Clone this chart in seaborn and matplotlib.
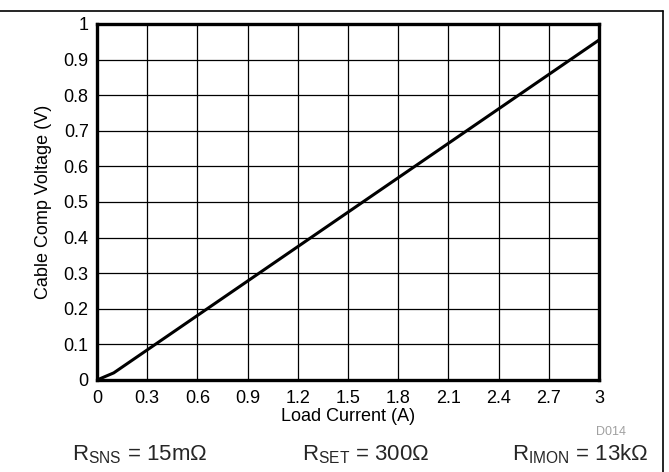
import matplotlib
matplotlib.use("Agg")
import matplotlib.pyplot as plt
import seaborn as sns
import pandas as pd
from matplotlib.lines import Line2D

load_current = [0.0, 0.1, 3.0]
cable_voltage = [0.0, 0.02, 0.955]
x_ticks = [0, 0.3, 0.6, 0.9, 1.2, 1.5, 1.8, 2.1, 2.4, 2.7, 3]
x_labels = ["0", "0.3", "0.6", "0.9", "1.2", "1.5", "1.8", "2.1", "2.4", "2.7", "3"]
y_ticks = [0, 0.1, 0.2, 0.3, 0.4, 0.5, 0.6, 0.7, 0.8, 0.9, 1]
y_labels = ["0", "0.1", "0.2", "0.3", "0.4", "0.5", "0.6", "0.7", "0.8", "0.9", "1"]

sns.set_theme(style="white")
plt.rcParams['font.family'] = ['Liberation Sans', 'DejaVu Sans']
plt.rcParams['mathtext.fontset'] = 'custom'
plt.rcParams['mathtext.rm'] = 'Liberation Sans'

df = pd.DataFrame({"I": load_current, "V": cable_voltage})

W, H = 669, 472
fig = plt.figure(figsize=(W / 100, H / 100), dpi=100)
ax = fig.add_axes([97 / W, 1 - 380 / H, (599 - 97) / W, (380 - 24) / H])
sns.lineplot(data=df, x="I", y="V", ax=ax, color="black", linewidth=2.2)

ax.set_xlim(0, 3)
ax.set_ylim(0, 1)
ax.set_xticks(x_ticks)
ax.set_xticklabels(x_labels, fontsize=13, color="black")
ax.set_yticks(y_ticks)
ax.set_yticklabels(y_labels, fontsize=13, color="black")
ax.tick_params(axis="x", length=0, pad=7)
ax.tick_params(axis="y", length=0, pad=6)
ax.grid(True, color="black", linewidth=0.9)
for s in ax.spines.values():
    s.set_visible(True)
    s.set_color("black")
    s.set_linewidth(2.4)
ax.set_xlabel("Load Current (A)", fontsize=13, color="black", labelpad=1)
ax.set_ylabel("Cable Comp Voltage (V)", fontsize=13, color="black", labelpad=8)

# figure border lines
fig.add_artist(Line2D([0, 663 / W], [1 - 11 / H, 1 - 11 / H], color="black", linewidth=1.2, transform=fig.transFigure))
fig.add_artist(Line2D([663 / W, 663 / W], [1 - 11 / H, 0], color="black", linewidth=1.2, transform=fig.transFigure))

fig.text(611 / W, 1 - 432 / H, "D014", fontsize=9, color="#a0a0a0", ha="center", va="center")
fig.text(140 / W, 1 - 460 / H, r"R$_{\mathregular{SNS}}$ = 15m$\Omega$", fontsize=16, ha="center", va="baseline")
fig.text(366 / W, 1 - 460 / H, r"R$_{\mathregular{SET}}$ = 300$\Omega$", fontsize=16, ha="center", va="baseline")
fig.text(649 / W, 1 - 460 / H, r"R$_{\mathregular{IMON}}$ = 13k$\Omega$", fontsize=16, ha="right", va="baseline")

fig.savefig("out.png", dpi=100)
